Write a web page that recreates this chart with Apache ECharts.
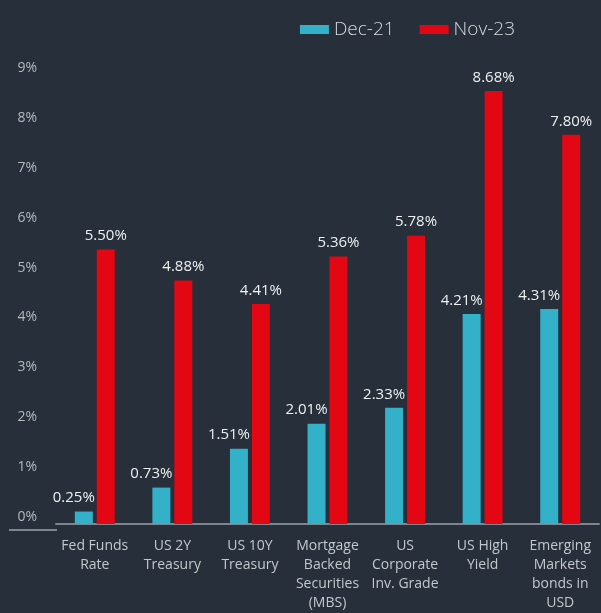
<!DOCTYPE html>
<html>
<head>
<meta charset="utf-8">
<script src="https://cdn.jsdelivr.net/npm/echarts@6/dist/echarts.min.js"></script>
<style>
  html, body { margin: 0; padding: 0; background: #262f3a; }
  #main { width: 601px; height: 613px; }
</style>
</head>
<body>
<div id="main"></div>
<script>
// 类目和数值
var categories = ['Fed Funds\nRate', 'US 2Y\nTreasury', 'US 10Y\nTreasury', 'Mortgage\nBacked\nSecurities\n(MBS)', 'US\nCorporate\nInv. Grade', 'US High\nYield', 'Emerging\nMarkets\nbonds in\nUSD']
var dec21 = [0.25, 0.73, 1.51, 2.01, 2.33, 4.21, 4.31]
var nov23 = [5.50, 4.88, 4.41, 5.36, 5.78, 8.68, 7.80]
var seriesNames = ['Dec-21', 'Nov-23']

var font = '"Open Sans", "Noto Sans", sans-serif'
var mychart = echarts.init(document.getElementById('main'))

var option = {
    backgroundColor: '#262f3a',
    animation: false,
    legend: {
        right: 81,
        top: 15,
        itemWidth: 29,
        itemHeight: 9,
        itemGap: 25,
        icon: 'rect',
        textStyle: { color: '#d5dadf', fontSize: 19, fontFamily: font, fontWeight: 300 },
        data: seriesNames
    },
    grid: {
        left: 56,
        right: 2,
        top: 75,
        bottom: 83
    },
    xAxis: {
        type: 'category',
        data: categories,
        axisLine: { lineStyle: { color: '#7d868e', width: 2 } },
        axisTick: { show: false },
        axisLabel: {
            color: '#c3c8cd',
            fontSize: 14,
            lineHeight: 19,
            fontFamily: font,
            margin: 13,
            interval: 0
        }
    },
    yAxis: {
        type: 'value',
        min: 0,
        max: 9,
        interval: 1,
        splitLine: { show: false },
        axisLine: { show: false },
        axisLabel: {
            color: '#b3b9be',
            fontSize: 14,
            fontFamily: font,
            margin: 19,
            verticalAlign: 'bottom',
            lineHeight: 14,
            formatter: '{value}%'
        }
    },
    series: [{
        name: seriesNames[0],
        type: 'bar',
        data: dec21,
        barWidth: 18,
        barGap: '22%',
        itemStyle: { color: '#33b1c9' },
        label: {
            show: true,
            position: 'top',
            distance: 6,
            offset: [-10, 0],
            color: '#eef0f2',
            fontSize: 15,
            fontFamily: font,
            formatter: function (p) { return p.value.toFixed(2) + '%' }
        }
    }, {
        name: seriesNames[1],
        type: 'bar',
        data: nov23,
        barWidth: 18,
        itemStyle: { color: '#e30613' },
        label: {
            show: true,
            position: 'top',
            distance: 6,
            color: '#eef0f2',
            fontSize: 15,
            fontFamily: font,
            formatter: function (p) { return p.value.toFixed(2) + '%' }
        }
    }],
    // 左侧延长的基线
    graphic: [{
        type: 'rect',
        left: 9,
        top: 529,
        shape: { width: 48, height: 2 },
        style: { fill: '#7d868e' },
        silent: true
    }]
}
mychart.setOption(option)
</script>
</body>
</html>
